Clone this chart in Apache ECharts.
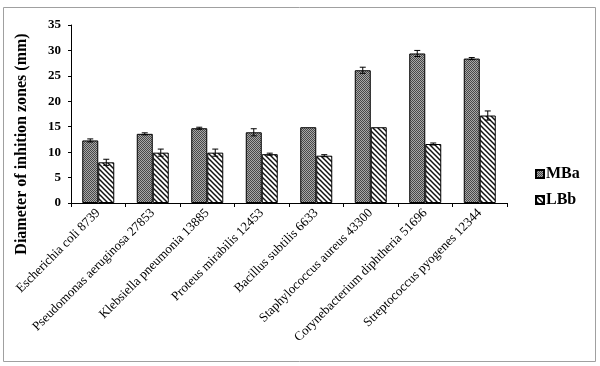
<!DOCTYPE html>
<html>
<head>
<meta charset="utf-8">
<script src="https://cdn.jsdelivr.net/npm/echarts@6/dist/echarts.min.js"></script>
<style>html,body{margin:0;padding:0;background:#fff}#c{width:600px;height:366px}</style>
</head>
<body>
<div id="c"></div>
<script>
var categories = ['Escherichia coli 8739','Pseudomonas aeruginosa 27853','Klebsiella pneumonia 13885','Proteus mirabilis 12453','Bacillus subtilis 6633','Staphylococcus aureus 43300','Corynebacterium diphtheria 51696','Streptococcus pyogenes 12344'];
var seriesNames = ['MBa','LBb'];
var mbaValues = [12.3, 13.6, 14.7, 13.9, 14.9, 26.1, 29.4, 28.4];
var mbaErrors = [0.3, 0.2, 0.2, 0.7, 0, 0.6, 0.6, 0.2];
var lbbValues = [8.0, 9.9, 9.9, 9.6, 9.3, 14.9, 11.6, 17.2];
var lbbErrors = [0.6, 0.7, 0.7, 0.2, 0.2, 0, 0.2, 0.9];
var yTicks = [0, 5, 10, 15, 20, 25, 30, 35];

function makeDots(){
  var c = document.createElement('canvas'); c.width = 2; c.height = 2;
  var g = c.getContext('2d');
  g.fillStyle = '#a8a8a8'; g.fillRect(0,0,2,2);
  g.fillStyle = '#484848'; g.fillRect(0,0,1,1); g.fillRect(1,1,1,1);
  return c;
}
function makeStripes(){
  var s = 5;
  var c = document.createElement('canvas'); c.width = s; c.height = s;
  var g = c.getContext('2d');
  g.fillStyle = '#fff'; g.fillRect(0,0,s,s);
  g.strokeStyle = '#111'; g.lineWidth = 1.5;
  [-s, 0, s].forEach(function(k){
    g.beginPath(); g.moveTo(-1, k-1); g.lineTo(s+1, s+k+1); g.stroke();
  });
  return c;
}
var dotPattern = {image: makeDots(), repeat: 'repeat'};
var stripePattern = {image: makeStripes(), repeat: 'repeat'};

var BAR_W = 16;
function errSeries(vals, errs, offset){
  return {
    type: 'custom',
    silent: true,
    z: 10,
    data: vals.map(function(v,i){ return [i, v, errs[i]]; }),
    renderItem: function(params, api){
      var i = api.value(0), v = api.value(1), e = api.value(2);
      if (!e) return null;
      var hi = api.coord([i, v + e]);
      var lo = api.coord([i, v - e]);
      var x = hi[0] + offset;
      var cap = 3;
      var st = {stroke: '#000', lineWidth: 1};
      return {type: 'group', children: [
        {type: 'line', shape: {x1: x, y1: hi[1], x2: x, y2: lo[1]}, style: st},
        {type: 'line', shape: {x1: x-cap, y1: hi[1], x2: x+cap, y2: hi[1]}, style: st},
        {type: 'line', shape: {x1: x-cap, y1: lo[1], x2: x+cap, y2: lo[1]}, style: st}
      ]};
    }
  };
}

var chart = echarts.init(document.getElementById('c'), null, {renderer: 'canvas'});
chart.setOption({
  animation: false,
  backgroundColor: '#fff',
  grid: {left: 71, right: 93, top: 25, bottom: 163, containLabel: false},
  legend: {
    orient: 'vertical', left: 530, top: 161,
    itemWidth: 8, itemHeight: 8, itemGap: 10,
    icon: 'rect',
    data: seriesNames,
    textStyle: {fontFamily: 'Liberation Serif', fontWeight: 'bold', fontSize: 16, color: '#000', padding: [0,0,0,-3]}
  },
  xAxis: {
    type: 'category', data: categories,
    axisLine: {lineStyle: {color: '#000', width: 1}},
    axisTick: {show: true, length: 4, lineStyle: {color: '#000'}},
    axisLabel: {rotate: 45, interval: 0, margin: 8, fontFamily: 'Liberation Serif', fontSize: 13, color: '#000'}
  },
  yAxis: {
    type: 'value', min: 0, max: 35, interval: 5,
    axisLine: {show: true, lineStyle: {color: '#000', width: 1}},
    axisTick: {show: true, length: 3, lineStyle: {color: '#000'}},
    splitLine: {show: false},
    axisLabel: {margin: 10, fontFamily: 'Liberation Serif', fontWeight: 'bold', fontSize: 13, color: '#000',
      formatter: function(v){ return yTicks.indexOf(v) >= 0 ? String(v) : ''; }}
  },
  graphic: [
    {type: 'rect', shape: {x: 3.5, y: 7.5, width: 592, height: 354}, style: {fill: 'none', stroke: '#a0a0a0', lineWidth: 1}, silent: true, z: -1},
    {type: 'text', x: 22, y: 144, rotation: Math.PI/2,
      style: {text: 'Diameter of inhition zones (mm)', fontFamily: 'Liberation Serif', fontWeight: 'bold', fontSize: 16, fill: '#000', textAlign: 'center', textVerticalAlign: 'middle'}}
  ],
  series: [
    {name: seriesNames[0], type: 'bar', data: mbaValues, barWidth: BAR_W, barGap: '0%',
      itemStyle: {color: dotPattern, borderColor: '#000', borderWidth: 1}},
    {name: seriesNames[1], type: 'bar', data: lbbValues, barWidth: BAR_W, barGap: '0%',
      itemStyle: {color: stripePattern, borderColor: '#000', borderWidth: 1}},
    errSeries(mbaValues, mbaErrors, -BAR_W/2),
    errSeries(lbbValues, lbbErrors, BAR_W/2)
  ]
});
</script>
</body>
</html>
